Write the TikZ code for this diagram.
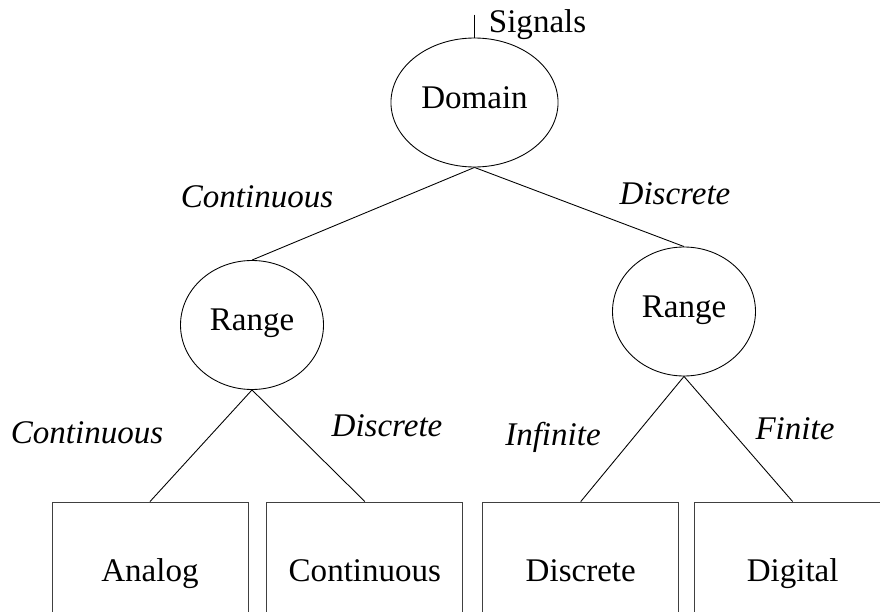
\documentclass[tikz,border=0pt]{standalone}
\usepackage{fontspec}
\setmainfont{Liberation Serif}
\usepackage{tikz}
\usetikzlibrary{shapes,positioning,calc}

\begin{document}
\begin{tikzpicture}[
    font=\fontsize{18.8}{22}\selectfont,
    line width=0.5pt,
    test/.style={ellipse, draw, minimum width=2.86cm, minimum height=2.58cm, align=center, text height=0.66em, text depth=0pt},
    leaf/.style={rectangle, draw=black!75, minimum width=3.92cm, minimum height=2.96cm, align=center, text height=0.66em, text depth=0pt},
    branch/.style={font=\fontsize{18.8}{22}\selectfont\itshape, anchor=base, inner sep=0pt}
]
\clip (0,0) rectangle (17.6,-12.24);

% Root
\node[test] (domain) at (9.49,-2.05) {Domain};
\coordinate[above=0.46cm of domain.north] (entry);
\node[anchor=base west, inner sep=0pt] (signals) at ([xshift=0.28cm, yshift=-0.36cm]entry) {Signals};

% Second level
\node[test] at ([shift={(-4.45,-4.45)}]domain.center) (lrange) {Range};
\node[test] at ([shift={(4.19,-4.18)}]domain.center) (rrange) {Range};

% Leaves
\node[leaf] (analog) at (3.0,-11.52) {Analog};
\node[leaf, right=0.36cm of analog] (continuous) {Continuous};
\node[leaf, right=0.38cm of continuous] (discrete) {Discrete};
\node[leaf, right=0.30cm of discrete] (digital) {Digital};

% Branch labels
\node[branch] (dom-cont) at (5.14,-4.14) {Continuous};
\node[branch] (dom-disc) at (13.50,-4.10) {Discrete};
\node[branch] (lr-cont) at (1.74,-8.86) {Continuous};
\node[branch] (lr-disc) at (7.74,-8.72) {Discrete};
\node[branch] (rr-inf) at (11.06,-8.90) {Infinite};
\node[branch] (rr-fin) at (15.90,-8.78) {Finite};

% Lines
\draw (entry) -- (domain.north);
\draw (domain.south) -- (lrange.north);
\draw (domain.south) -- (rrange.north);
\draw (lrange.south) -- (analog.north);
\draw (lrange.south) -- (continuous.north);
\draw (rrange.south) -- (discrete.north);
\draw (rrange.south) -- (digital.north);

\end{tikzpicture}
\end{document}
